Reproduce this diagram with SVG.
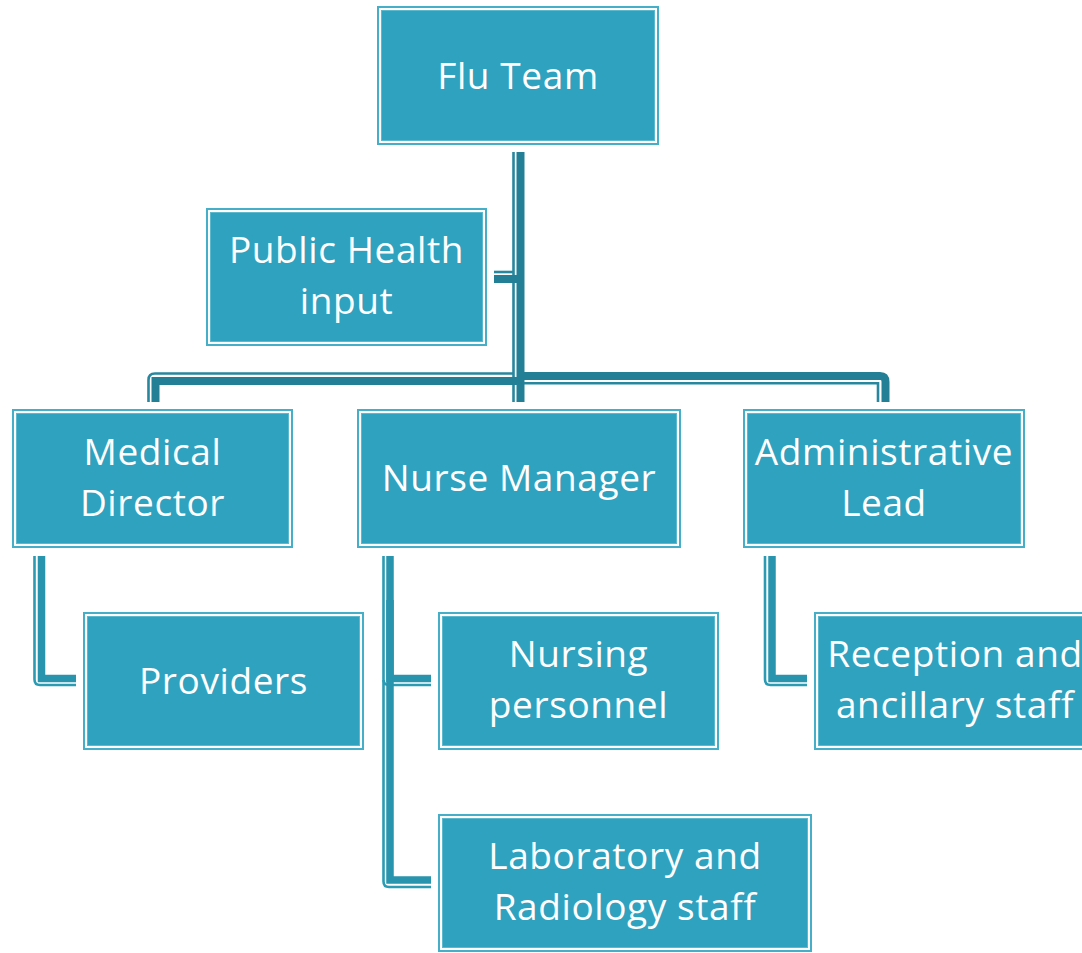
<svg xmlns="http://www.w3.org/2000/svg" width="1082" height="953" viewBox="0 0 1082 953">
  <style>
    .frame { fill: #ffffff; stroke: #45afc8; stroke-width: 2; }
    .body { fill: #2ea2bf; stroke: #5ab9cf; stroke-width: 1; }
    .label { fill: #ffffff; font-family: "Open Sans", "Noto Sans", "Liberation Sans", sans-serif; font-size: 37px; letter-spacing: 0.6px; text-anchor: middle; }
    .trunk-thick { fill: none; stroke: #237f95; stroke-width: 8; }
    .trunk-thin { fill: none; stroke: #27879e; stroke-width: 2.6; }
    .branch-thick { fill: none; stroke: #2994ad; stroke-width: 7.5; }
    .branch-thin { fill: none; stroke: #2b9bb4; stroke-width: 2.6; }
  </style>
  <rect width="1082" height="953" fill="#ffffff"/>

  <!-- connectors: thick line with a thin companion line on one side -->
  <g id="connectors">
    <!-- Flu Team trunk -->
    <path class="trunk-thin" d="M513.5 152 V402"/>
    <path class="trunk-thick" d="M520.5 152 V402" stroke-width="7"/>
    <!-- Public Health stub -->
    <path class="trunk-thin" d="M494 272 H513"/>
    <path class="trunk-thick" d="M494 279 H517"/>
    <!-- bus to Medical Director -->
    <path class="trunk-thin" d="M513 373.5 H155 Q148.5 373.5 148.5 380 V402"/>
    <path class="trunk-thick" d="M517 381 H155.5 V402" stroke-linejoin="miter"/>
    <!-- bus to Administrative Lead -->
    <path class="trunk-thick" d="M520 376 H880 Q885.5 376 885.5 382 V402" stroke-width="8.5"/>
    <path class="trunk-thin" d="M524 383.3 H878 V402"/>

    <!-- Medical Director to Providers -->
    <path class="branch-thin" d="M34.5 556 V679.5 Q34.5 685 40 685 H76"/>
    <path class="branch-thick" d="M41.5 556 V678.5 H76" stroke-linejoin="miter"/>
    <!-- Nurse Manager to Nursing personnel -->
    <path class="branch-thin" d="M383.5 556 V679.5 Q383.5 685 389 685 H431"/>
    <path class="branch-thick" d="M390 556 V678.5 H431" stroke-linejoin="miter"/>
    <!-- Nurse Manager to Laboratory and Radiology staff -->
    <path class="branch-thin" d="M383.5 680 V881.5 Q383.5 887 389 887 H431"/>
    <path class="branch-thick" d="M390 600 V880 H431" stroke-linejoin="miter"/>
    <!-- Administrative Lead to Reception -->
    <path class="branch-thin" d="M765 556 V679.5 Q765 685 770.5 685 H807"/>
    <path class="branch-thick" d="M772 556 V678.5 H807" stroke-linejoin="miter"/>
  </g>

  <g id="flu-team">
    <rect class="frame" x="378" y="7" width="280" height="137"/>
    <rect class="body" x="381.5" y="10.5" width="273" height="130"/>
    <text class="label" x="518" y="88.5">Flu Team</text>
  </g>

  <g id="public-health-input">
    <rect class="frame" x="207" y="209" width="279" height="136"/>
    <rect class="body" x="210.5" y="212.5" width="272" height="129"/>
    <text class="label" x="346.5" y="263">Public Health</text>
    <text class="label" x="346.5" y="314">input</text>
  </g>

  <g id="medical-director">
    <rect class="frame" x="13" y="410" width="279" height="137"/>
    <rect class="body" x="16.5" y="413.5" width="272" height="130"/>
    <text class="label" x="152.5" y="464.5">Medical</text>
    <text class="label" x="152.5" y="515.5">Director</text>
  </g>

  <g id="nurse-manager">
    <rect class="frame" x="358" y="410" width="322" height="137"/>
    <rect class="body" x="361.5" y="413.5" width="315" height="130"/>
    <text class="label" x="519" y="491">Nurse Manager</text>
  </g>

  <g id="administrative-lead">
    <rect class="frame" x="744" y="410" width="280" height="137"/>
    <rect class="body" x="747.5" y="413.5" width="273" height="130"/>
    <text class="label" x="884" y="464.5">Administrative</text>
    <text class="label" x="884" y="515.5">Lead</text>
  </g>

  <g id="providers">
    <rect class="frame" x="84" y="613" width="279" height="136"/>
    <rect class="body" x="87.5" y="616.5" width="272" height="129"/>
    <text class="label" x="223.5" y="694">Providers</text>
  </g>

  <g id="nursing-personnel">
    <rect class="frame" x="439" y="613" width="279" height="136"/>
    <rect class="body" x="442.5" y="616.5" width="272" height="129"/>
    <text class="label" x="578.5" y="667">Nursing</text>
    <text class="label" x="578.5" y="718">personnel</text>
  </g>

  <g id="reception-ancillary">
    <rect class="frame" x="815" y="613" width="279" height="136"/>
    <rect class="body" x="818.5" y="616.5" width="272" height="129"/>
    <text class="label" x="955" y="667">Reception and</text>
    <text class="label" x="955" y="718">ancillary staff</text>
  </g>

  <g id="lab-radiology">
    <rect class="frame" x="439" y="815" width="372" height="136"/>
    <rect class="body" x="442.5" y="818.5" width="365" height="129"/>
    <text class="label" x="625" y="869">Laboratory and</text>
    <text class="label" x="625" y="920">Radiology staff</text>
  </g>
</svg>
